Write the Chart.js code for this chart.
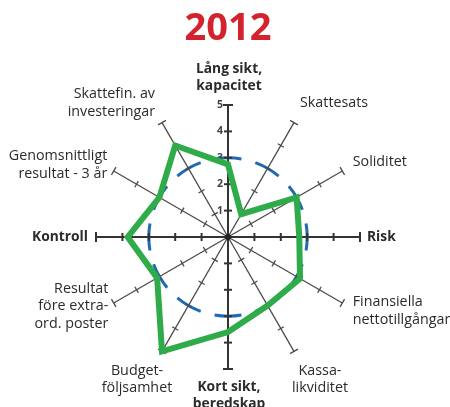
<!DOCTYPE html>
<html lang="sv">
  <head>
    <meta charset="UTF-8" />
    <title>2012</title>
    <script src="https://cdn.jsdelivr.net/npm/chart.js@4.4.0/dist/chart.umd.min.js"></script>
    <style>
      body { margin: 0; background: #fff; }
    </style>
  </head>
  <body>
    <canvas id="chart" width="450" height="407"></canvas>
    <script>
      var labels = [
        ['Lång sikt,', 'kapacitet'],
        ['Skattesats'],
        ['Soliditet'],
        ['Risk'],
        ['Finansiella', 'nettotillgångar'],
        ['Kassa-', 'likviditet'],
        ['Kort sikt,', 'beredskap'],
        ['Budget-', 'följsamhet'],
        ['Resultat', 'före extra-', 'ord. poster'],
        ['Kontroll'],
        ['Genomsnittligt', 'resultat - 3 år'],
        ['Skattefin. av', 'investeringar']
      ];
      var values = [2.75, 1.0, 3.0, 2.7, 3.15, 3.0, 3.6, 5.0, 3.1, 3.8, 3.0, 4.0];
      var tickValues = [1, 2, 3, 4, 5];
      var referenceLevel = 3;
      var mainAxes = [0, 3, 6, 9];

      var green = '#2fab4a';
      var blue = '#1f6bb3';
      var ink = '#2b2b2b';

      // how each label block sits next to its axis end
      var labelStyle = [
        { block: 'center', line: 'center', v: 'bottom', dx: 1, dy: 2 },
        { block: 'left', line: 'left', v: 'bottom', dx: 0, dy: -1 },
        { block: 'left', line: 'left', v: 'middle', dx: 0, dy: -3 },
        { block: 'left', line: 'left', v: 'middle', dx: -5, dy: 0 },
        { block: 'left', line: 'left', v: 'middle', dx: 0, dy: 2 },
        { block: 'left', line: 'center', v: 'top', dx: -8, dy: 0 },
        { block: 'center', line: 'center', v: 'top', dx: 1, dy: -3 },
        { block: 'center', line: 'center', v: 'top', dx: -19, dy: 0 },
        { block: 'right', line: 'right', v: 'middle', dx: 5, dy: -3 },
        { block: 'right', line: 'right', v: 'middle', dx: 4, dy: 0 },
        { block: 'right', line: 'right', v: 'middle', dx: 4, dy: 0 },
        { block: 'right', line: 'right', v: 'bottom', dx: -1, dy: 8 }
      ];

      var axisDecor = {
        id: 'axisDecor',
        beforeDatasetsDraw(chart) {
          var s = chart.scales.r;
          var ctx = chart.ctx;
          ctx.save();
          for (var i = 0; i < labels.length; i++) {
            var main = mainAxes.indexOf(i) >= 0;
            var end = s.getPointPosition(i, s.drawingArea);
            var ang = Math.atan2(end.y - s.yCenter, end.x - s.xCenter) + Math.PI / 2;
            ctx.strokeStyle = main ? '#333' : '#4a4a4a';
            ctx.lineWidth = main ? 2 : 1.3;
            tickValues.forEach(function (v) {
              var p = s.getPointPosition(i, s.getDistanceFromCenterForValue(v));
              var h = main ? 4 : 3.5;
              if (v === 5) h += 1;
              ctx.beginPath();
              ctx.moveTo(p.x - Math.cos(ang) * h, p.y - Math.sin(ang) * h);
              ctx.lineTo(p.x + Math.cos(ang) * h, p.y + Math.sin(ang) * h);
              ctx.stroke();
            });
          }
          ctx.fillStyle = '#222';
          ctx.beginPath();
          ctx.arc(s.xCenter, s.yCenter, 3, 0, Math.PI * 2);
          ctx.fill();

          // value labels along the top axis
          ctx.font = 'bold 10.5px "Open Sans"';
          ctx.fillStyle = '#444';
          ctx.textAlign = 'right';
          ctx.textBaseline = 'middle';
          tickValues.forEach(function (v) {
            var p = s.getPointPosition(0, s.getDistanceFromCenterForValue(v));
            ctx.fillText(String(v), p.x - 5, p.y);
          });
          ctx.restore();
        },
        afterDraw(chart) {
          var s = chart.scales.r;
          var ctx = chart.ctx;
          var lh = 17.5;
          ctx.save();
          ctx.fillStyle = ink;
          ctx.textBaseline = 'middle';
          labels.forEach(function (lines, i) {
            var st = labelStyle[i];
            var main = mainAxes.indexOf(i) >= 0;
            ctx.font = main ? 'bold 13.8px "Open Sans"' : '14.3px "Open Sans"';
            var p = s.getPointPosition(i, s.drawingArea + 12);
            var x = p.x + st.dx;
            var y = p.y + st.dy;
            var w = Math.max.apply(null, lines.map(function (t) { return ctx.measureText(t).width; }));
            var h = lines.length * lh;
            var left = st.block === 'left' ? x : st.block === 'right' ? x - w : x - w / 2;
            var top = st.v === 'top' ? y : st.v === 'bottom' ? y - h : y - h / 2;
            lines.forEach(function (t, k) {
              var tx = st.line === 'left' ? left : st.line === 'right' ? left + w : left + w / 2;
              ctx.textAlign = st.line;
              ctx.fillText(t, tx, top + (k + 0.5) * lh);
            });
          });
          ctx.restore();
        }
      };

      new Chart(document.getElementById('chart'), {
        type: 'radar',
        data: {
          labels: labels,
          datasets: [{
            data: values,
            borderColor: green,
            borderWidth: 6,
            backgroundColor: 'rgba(0,0,0,0)',
            fill: false,
            pointRadius: 0,
            borderJoinStyle: 'miter',
            tension: 0
          }]
        },
        options: {
          responsive: false,
          animation: false,
          events: [],
          layout: { padding: { top: 0, left: 6, right: 0, bottom: 38 } },
          plugins: {
            legend: { display: false },
            tooltip: { enabled: false },
            title: {
              display: true,
              text: '2012',
              color: '#d4232e',
              font: { family: '"Open Sans"', size: 38, weight: 'bold', lineHeight: 1.2 },
              padding: { top: 6, bottom: 53.4 }
            }
          },
          scales: {
            r: {
              min: 0,
              max: 5,
              ticks: { stepSize: 1, display: false },
              pointLabels: { display: false },
              grid: {
                circular: true,
                lineWidth: 3,
                color: (c) => (c.tick && c.tick.value === referenceLevel ? blue : 'rgba(0,0,0,0)')
              },
              border: { dash: [27, 14.4], dashOffset: 13.5 },
              angleLines: {
                color: (c) => (mainAxes.indexOf(c.index) >= 0 ? '#333' : '#4a4a4a'),
                lineWidth: (c) => (mainAxes.indexOf(c.index) >= 0 ? 2 : 1.3)
              }
            }
          }
        },
        plugins: [axisDecor]
      });
    </script>
  </body>
</html>
